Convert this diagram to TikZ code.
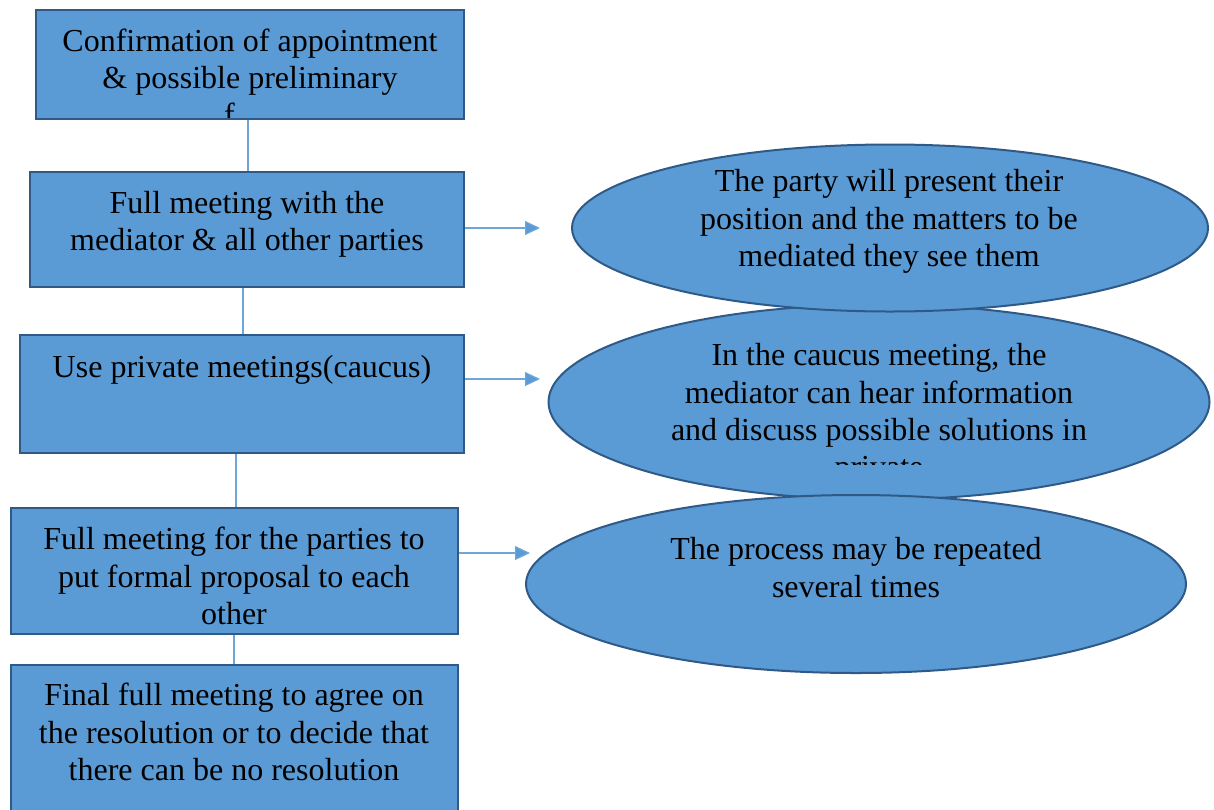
\documentclass[tikz,border=0pt]{standalone}
\usepackage{fontspec}
\setmainfont{Liberation Serif}
\usetikzlibrary{arrows.meta,shapes.geometric}
\definecolor{fillblue}{HTML}{5B9BD5}
\definecolor{edgeblue}{HTML}{2F5A88}
\definecolor{lineblue}{HTML}{6FA6DA}
\tikzset{
  box/.style={rectangle, draw=edgeblue, fill=fillblue, line width=1pt, inner sep=0pt},
  oval/.style={ellipse, draw=edgeblue, fill=fillblue, line width=1pt, inner sep=0pt},
  txt/.style={align=center, inner sep=0pt, font=\fontsize{16}{18.6}\selectfont},
  conn/.style={draw=lineblue, line width=0.6pt},
  arr/.style={draw=lineblue, line width=0.6pt, -{Triangle[length=7.5pt,width=7pt,fill=fillblue]}}
}
\begin{document}
\begin{tikzpicture}[x=0.5pt,y=-0.5pt]
\useasboundingbox (0,0) rectangle (1214,809);
% boxes
\node[box, minimum width=214pt, minimum height=54.5pt] (b1) at (250,64.5) {};
\node[box, minimum width=217pt, minimum height=57.5pt] (b2) at (247,229.5) {};
\node[box, minimum width=222pt, minimum height=59pt] (b3) at (242,394) {};
\node[box, minimum width=223.5pt, minimum height=63pt] (b4) at (234.5,571) {};
\node[box, minimum width=223.5pt, minimum height=74pt] (b5) at (234.5,739) {};
% box texts
\begin{scope}
\clip (40,14) rectangle (460,117.5);
\node[txt] (t1) at (250,77.5) {Confirmation of appointment\\ \& possible preliminary\\ f\hphantom{ees}};
\end{scope}
\node[txt] (t2) at (247,224.5) {Full meeting with the\\ mediator \& all other parties};
\node[txt] (t3) at (242,370) {Use private meetings(caucus)};
\node[txt] (t4) at (234,576) {Full meeting for the parties to\\ put formal proposal to each\\ other};
\node[txt] (t5) at (234,732) {Final full meeting to agree on\\ the resolution or to decide that\\ there can be no resolution};
% vertical connectors
\coordinate (c1) at (248,0);
\coordinate (c2) at (243,0);
\coordinate (c3) at (236,0);
\coordinate (c4) at (234,0);
\draw[conn] (b1.south -| c1) -- (b2.north -| c1);
\draw[conn] (b2.south -| c2) -- (b3.north -| c2);
\draw[conn] (b3.south -| c3) -- (b4.north -| c3);
\draw[conn] (b4.south -| c4) -- (b5.north -| c4);
% ellipses
\node[oval, minimum width=330.5pt, minimum height=97.5pt] (e2) at (879,402) {};
\node[oval, minimum width=318pt, minimum height=83.5pt] (e1) at (890,228) {};
\node[oval, minimum width=330pt, minimum height=89pt] (e3) at (856,584) {};
\node[txt] (s1) at (889,221.5) {The party will present their\\ position and the matters to be\\ mediated they see them};
\begin{scope}
\clip (600,330) rectangle (1160,464);
\node[txt] (s2) at (879,414) {In the caucus meeting, the\\ mediator can hear information\\ and discuss possible solutions in\\ private};
\end{scope}
\node[txt] (s3) at (856,567.5) {The process may be repeated\\ several times};
% arrows
\coordinate (a1) at (540,228);
\coordinate (a2) at (540,379);
\coordinate (a3) at (530,553);
\draw[arr] (b2.east |- a1) -- (a1);
\draw[arr] (b3.east |- a2) -- (a2);
\draw[arr] (b4.east |- a3) -- (a3);
\end{tikzpicture}
\end{document}
